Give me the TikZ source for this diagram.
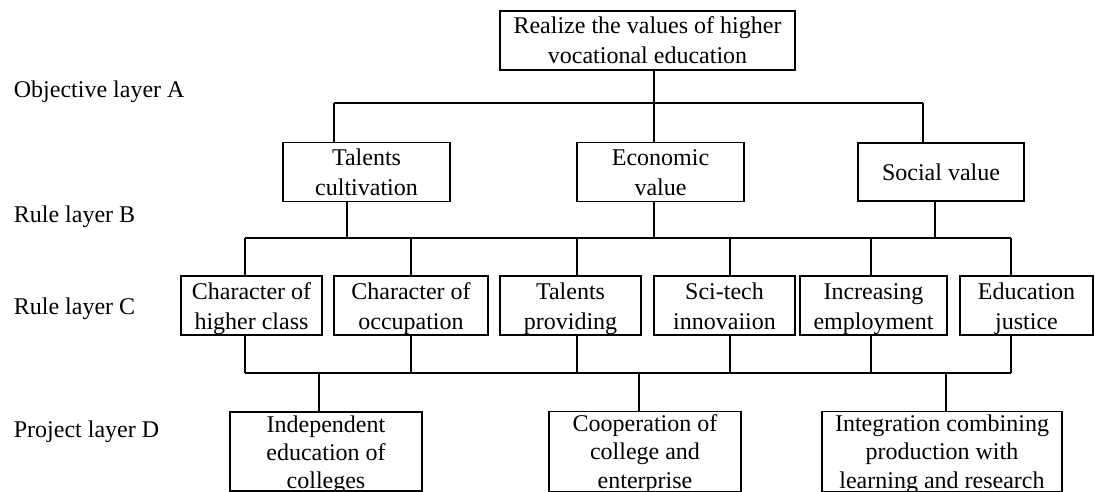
\documentclass[tikz,border=0pt]{standalone}
\usepackage{fontspec}
\setmainfont{Liberation Serif}
\usetikzlibrary{calc}
% strut that keeps all box lines on the same baselines
\newcommand{\bxs}{\rule[-6pt]{0pt}{29pt}}

\begin{document}
\begin{tikzpicture}[x=1pt,y=-1pt,line width=1.8pt,
  box/.style={draw,align=center,inner sep=0pt,minimum height=57pt},
  projbox/.style={box,inner ysep=-3pt,minimum height=79pt},
  layer/.style={anchor=base west,inner sep=0pt}]
\tikzstyle{every node}+=[font=\fontsize{24}{28}\selectfont]
\useasboundingbox (0,0) rectangle (1095,492);
% layer names
\node [layer] (la) at (13,98) {Objective layer A};
\node [layer] (lb) at (13,222) {Rule layer B};
\node [layer] (lc) at (13,314) {Rule layer C};
\node [layer] (ld) at (13,437) {Project layer D};
% goal
\node [box,minimum width=295pt] (top) at (647.5,40.5) {\bxs Realize the values of higher\\vocational education\bxs};
% criteria B
\node [box,minimum width=167pt,minimum height=58pt] (b1) at (366.5,172) {\bxs Talents\\cultivation\bxs};
\node [box,minimum width=167pt,minimum height=58pt] (b2) at (660.5,172) {\bxs Economic\\value\bxs};
\node [box,minimum width=166pt,minimum height=58pt] (b3) at (941,172) {\bxs Social value};
% criteria C
\node [box,minimum width=141pt] (c1) at (251.5,305.5) {\bxs Character of\\higher class\bxs};
\node [box,minimum width=154pt] (c2) at (411,305.5) {\bxs Character of\\occupation\bxs};
\node [box,minimum width=141pt] (c3) at (570.5,305.5) {\bxs Talents\\providing\bxs};
\node [box,minimum width=141pt] (c4) at (724.5,305.5) {\bxs Sci-tech\\innovaiion\bxs};
\node [box,minimum width=147pt] (c5) at (873.5,305.5) {\bxs Increasing\\employment\bxs};
\node [box,minimum width=133pt] (c6) at (1026.5,305.5) {\bxs Education\\justice\bxs};
% projects D
\node [projbox,minimum width=192pt] (d1) at (326,451.5) {\bxs Independent\\education of\\colleges\bxs};
\node [projbox,minimum width=192pt] (d2) at (645,451.5) {\bxs Cooperation of\\college and\\enterprise\bxs};
\node [projbox,minimum width=240pt] (d3) at (942,451.5) {\bxs Integration combining\\production with\\learning and research\bxs};

% rail A-B
\coordinate (a0) at (654,103);
\coordinate (a1) at (334,103);
\coordinate (a2) at (654,103);
\coordinate (a3) at (923,103);
\draw (top.south -| a0) -- (a0);
\draw (a1) -- (a3);
\foreach \i in {1,2,3}
  \draw (a\i) -- (b\i.north -| a\i);

% rail B-C
\coordinate (p1) at (347,238);
\coordinate (p2) at (654,238);
\coordinate (p3) at (935,238);
\foreach \i/\x in {1/245,2/411,3/577,4/730,5/871,6/1011}
  \coordinate (q\i) at (\x,238);
\draw (q1) -- (q6);
\foreach \i in {1,2,3}
  \draw (b\i.south -| p\i) -- (p\i);
\foreach \i in {1,...,6}
  \draw (q\i) -- (c\i.north -| q\i);

% rail C-D
\coordinate (rail) at (0,373);
\foreach \i in {1,...,6}
  \coordinate (r\i) at (q\i |- rail);
\draw (r1) -- (r6);
\foreach \i in {1,...,6}
  \draw (c\i.south -| r\i) -- (r\i);
\coordinate (s1) at (319,373);
\coordinate (s2) at (639,373);
\coordinate (s3) at (946,373);
\foreach \i in {1,2,3}
  \draw (s\i) -- (d\i.north -| s\i);
\end{tikzpicture}
\end{document}
